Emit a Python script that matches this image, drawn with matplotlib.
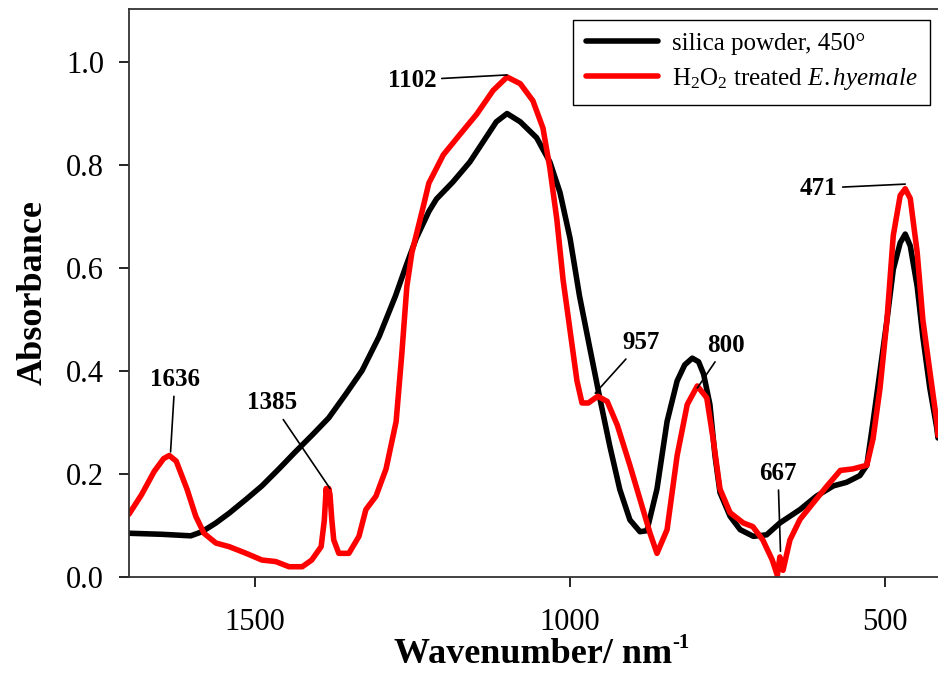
import matplotlib
matplotlib.use("Agg")
import matplotlib.pyplot as plt

plt.rcParams['font.family'] = 'Liberation Serif'
plt.rcParams['mathtext.fontset'] = 'custom'
plt.rcParams['mathtext.rm'] = 'Liberation Serif'
plt.rcParams['mathtext.it'] = 'Liberation Serif:italic'

# silica powder heated at 450 degrees
silica_wn = [1700, 1648, 1602, 1584, 1562, 1541, 1514, 1489, 1462, 1436, 1409,
             1383, 1356, 1330, 1303, 1277, 1260, 1244, 1224, 1212, 1186, 1159,
             1138, 1117, 1100, 1079, 1053, 1032, 1016, 1000, 985, 969, 953,
             937, 921, 905, 889, 878, 862, 846, 830, 818, 806, 796, 788, 778,
             770, 762, 746, 730, 709, 688, 667, 635, 609, 582, 561, 540, 529,
             519, 508, 497, 487, 476, 468, 460, 449, 440, 429, 418, 416]
silica_abs = [0.085, 0.083, 0.080, 0.088, 0.105, 0.124, 0.151, 0.177, 0.210,
              0.243, 0.276, 0.309, 0.355, 0.401, 0.467, 0.546, 0.605, 0.658,
              0.710, 0.734, 0.767, 0.806, 0.845, 0.884, 0.900, 0.884, 0.853,
              0.806, 0.747, 0.658, 0.546, 0.447, 0.349, 0.255, 0.170, 0.111,
              0.088, 0.090, 0.171, 0.302, 0.381, 0.412, 0.425, 0.418, 0.394,
              0.335, 0.236, 0.164, 0.118, 0.092, 0.079, 0.082, 0.105, 0.131,
              0.157, 0.177, 0.184, 0.197, 0.217, 0.302, 0.400, 0.499, 0.597,
              0.649, 0.666, 0.643, 0.564, 0.466, 0.367, 0.290, 0.270]

# H2O2 treated E. hyemale
treated_wn = [1700, 1680, 1660, 1645, 1636, 1625, 1608, 1594, 1581, 1562, 1541,
              1514, 1489, 1467, 1446, 1425, 1410, 1395, 1390, 1387, 1385, 1383,
              1381, 1378, 1375, 1367, 1351, 1335, 1324, 1308, 1292, 1276, 1267,
              1259, 1251, 1235, 1224, 1201, 1175, 1148, 1122, 1100, 1079, 1059,
              1043, 1032, 1021, 1011, 1000, 989, 981, 971, 956, 941, 925, 905,
              889, 873, 862, 846, 830, 814, 798, 783, 773, 762, 746, 725, 710,
              694, 679, 671, 667, 662, 651, 635, 614, 592, 571, 551, 529, 519,
              508, 497, 487, 476, 468, 460, 449, 440, 429, 418, 416]
treated_abs = [0.122, 0.160, 0.205, 0.230, 0.236, 0.225, 0.171, 0.118, 0.085,
               0.066, 0.059, 0.046, 0.033, 0.030, 0.020, 0.020, 0.033, 0.059,
               0.110, 0.172, 0.150, 0.172, 0.160, 0.110, 0.072, 0.046, 0.046,
               0.079, 0.131, 0.157, 0.210, 0.302, 0.433, 0.564, 0.630, 0.709,
               0.765, 0.820, 0.859, 0.899, 0.945, 0.971, 0.958, 0.925, 0.872,
               0.794, 0.695, 0.577, 0.479, 0.381, 0.338, 0.338, 0.351, 0.341,
               0.295, 0.217, 0.151, 0.085, 0.046, 0.092, 0.236, 0.335, 0.371,
               0.348, 0.269, 0.171, 0.125, 0.105, 0.098, 0.072, 0.033, 0.003,
               0.039, 0.013, 0.072, 0.112, 0.144, 0.177, 0.207, 0.210, 0.217,
               0.269, 0.367, 0.499, 0.663, 0.741, 0.754, 0.735, 0.630, 0.499,
               0.400, 0.302, 0.275]

# peak labels: (label, peak wavenumber, peak absorbance, text x, text y)
peaks = [("1636", 1634, 0.243, 1627, 0.384),
         ("1385", 1381, 0.172, 1473, 0.338),
         ("1102", 1100, 0.975, 1251, 0.965),
         ("957", 960, 0.357, 888, 0.455),
         ("800", 798, 0.367, 752, 0.450),
         ("667", 666, 0.050, 670, 0.202),
         ("471", 468, 0.763, 606, 0.755)]

fig = plt.figure(figsize=(9.38, 6.73), dpi=100)
ax = fig.add_axes([0.1375, 0.1426, 0.8625, 0.844])

ax.plot(silica_wn, silica_abs, color='black', lw=4, solid_capstyle='round',
        label='silica powder, 450°')
ax.plot(treated_wn, treated_abs, color='red', lw=4, solid_capstyle='round',
        label=r'H$_2$O$_2$ treated $\mathit{E.hyemale}$')

for label, px, py, tx, ty in peaks:
    ax.annotate(label, xy=(px, py), xytext=(tx, ty), fontsize=18,
                fontweight='bold', ha='center', va='center',
                arrowprops=dict(arrowstyle='-', color='black', lw=1.2,
                                shrinkA=2, shrinkB=0))

ax.set_xlim(1700, 416)
ax.set_ylim(0, 1.103)
ax.set_xticks([1500, 1000, 500])
ax.set_yticks([0.0, 0.2, 0.4, 0.6, 0.8, 1.0])
ax.set_yticklabels(['0.0', '0.2', '0.4', '0.6', '0.8', '1.0'])
ax.tick_params(axis='both', direction='out', length=7, width=1.2, labelsize=22)
ax.tick_params(axis='x', pad=15)
ax.tick_params(axis='y', pad=11)

for side in ['left', 'bottom', 'top']:
    ax.spines[side].set_linewidth(1.3)
    ax.spines[side].set_color('#333333')
ax.spines['right'].set_visible(False)

xlab = ax.set_xlabel('Wavenumber/ nm', fontsize=26, fontweight='bold',
                     labelpad=1)
ax.annotate('-1', xy=(1.0, 0.55), xycoords=xlab, ha='left', va='bottom',
            fontsize=15, fontweight='bold')
ax.set_ylabel('Absorbance', fontsize=26, fontweight='bold', labelpad=12)

leg = ax.legend(loc='upper right', bbox_to_anchor=(0.99, 0.981),
                borderaxespad=0, fontsize=18, handlelength=2.9,
                handletextpad=0.55, fancybox=False, framealpha=1,
                edgecolor='black', borderpad=0.5, labelspacing=0.45)
leg.get_frame().set_linewidth(1.0)

fig.savefig('out.png', dpi=100)
